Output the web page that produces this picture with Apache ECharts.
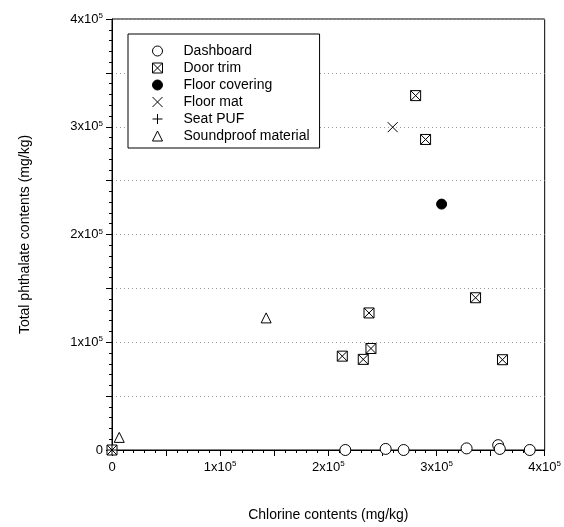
<!DOCTYPE html>
<html>
<head>
<meta charset="utf-8">
<script src="https://cdn.jsdelivr.net/npm/echarts@6/dist/echarts.min.js"></script>
<style>
  html, body { margin: 0; padding: 0; background: #fff; }
  #chart { width: 564px; height: 527px; }
</style>
</head>
<body>
<div id="chart"></div>
<script>
// data (mg/kg)
var dashboardX = [215700, 253000, 269600, 327800, 357000, 358500, 386200];
var dashboardY = [0, 1000, 0, 1500, 4500, 1000, 0];

var doorTrimX = [0, 280700, 289900, 336100, 237600, 239400, 212900, 232300, 361000];
var doorTrimY = [0, 328900, 288200, 141300, 127200, 94200, 87100, 84100, 83800];

var floorCoveringX = [304700];
var floorCoveringY = [228200];

var floorMatX = [259500];
var floorMatY = [299600];

var seatPufX = [0];
var seatPufY = [0];

var soundproofX = [6700, 142500];
var soundproofY = [11700, 122600];

var names = ['Dashboard', 'Door trim', 'Floor covering', 'Floor mat', 'Seat PUF', 'Soundproof material'];

function pairs(xs, ys) {
    return xs.map(function (x, i) { return [x, ys[i]]; });
}

// labels like 1x10^5, only at whole 1e5 steps
function sciLabel(v) {
    if (v === 0) return '{n|0}';
    if (v % 100000 !== 0) return '';
    return '{n|' + (v / 100000) + 'x10}{s|5}';
}

var font = '"Liberation Sans", Arial, sans-serif';
var labelRich = {
    n: { fontFamily: font, fontSize: 13, color: '#000', lineHeight: 14 },
    s: { fontFamily: font, fontSize: 8, color: '#000', lineHeight: 14, verticalAlign: 'top' }
};

var boxX = 'path://M0,0L10,0L10,10L0,10Z M0,0L10,10 M10,0L0,10';
var cross = 'path://M0,0L10,10 M10,0L0,10';
var plus = 'path://M5,0L5,10 M0,5L10,5';

var chart = echarts.init(document.getElementById('chart'));

function axisCommon() {
    return {
        type: 'value',
        min: 0,
        max: 400000,
        interval: 50000,
        axisLine: { show: true, lineStyle: { color: '#000', width: 1 } },
        axisTick: { show: true, inside: false, length: 6, lineStyle: { color: '#000' } },
        minorTick: { show: true, splitNumber: 5, length: 3, lineStyle: { color: '#000' } },
        axisLabel: { formatter: sciLabel, rich: labelRich },
        nameLocation: 'middle',
        nameTextStyle: { fontFamily: font, fontSize: 14, color: '#000' }
    };
}

var xAxis = axisCommon();
xAxis.name = 'Chlorine contents (mg/kg)';
xAxis.nameGap = 58;
xAxis.axisLabel.margin = 10;
xAxis.splitLine = { show: false };

var yAxis = axisCommon();
yAxis.name = 'Total phthalate contents (mg/kg)';
yAxis.nameGap = 80;
yAxis.axisLabel.margin = 9;
yAxis.splitLine = { show: true, lineStyle: { color: '#999', type: [1, 3], width: 1 } };

function scatter(name, data, symbol, fill, size) {
    return {
        name: name,
        type: 'scatter',
        data: data,
        symbol: symbol,
        symbolSize: size || 10,
        clip: false,
        itemStyle: { color: fill, borderColor: '#000', borderWidth: 1, opacity: 1 },
        emphasis: { disabled: true }
    };
}

var option = {
    animation: false,
    backgroundColor: '#fff',
    grid: {
        left: 112, right: 19, top: 19, bottom: 75,
        show: true, borderColor: '#000', borderWidth: 1, backgroundColor: 'transparent'
    },
    legend: {
        data: names,
        orient: 'vertical',
        left: 128,
        top: 34,
        padding: [10, 10, 5, 24],
        itemGap: 3,
        itemWidth: 10,
        itemHeight: 10,
        borderColor: '#000',
        borderWidth: 1,
        backgroundColor: '#fff',
        itemStyle: { borderWidth: 1 },
        textStyle: { fontFamily: font, fontSize: 14, color: '#000', lineHeight: 14, padding: [0, 0, 0, 16] }
    },
    xAxis: xAxis,
    yAxis: yAxis,
    series: [
        scatter('Dashboard', pairs(dashboardX, dashboardY), 'circle', '#fff', 11),
        scatter('Door trim', pairs(doorTrimX, doorTrimY), boxX, '#fff', 10),
        scatter('Floor covering', pairs(floorCoveringX, floorCoveringY), 'circle', '#000', 10),
        scatter('Floor mat', pairs(floorMatX, floorMatY), cross, '#000', 10),
        scatter('Seat PUF', pairs(seatPufX, seatPufY), plus, '#000', 10),
        scatter('Soundproof material', pairs(soundproofX, soundproofY), 'triangle', '#fff', 10)
    ]
};

chart.setOption(option);
</script>
</body>
</html>
